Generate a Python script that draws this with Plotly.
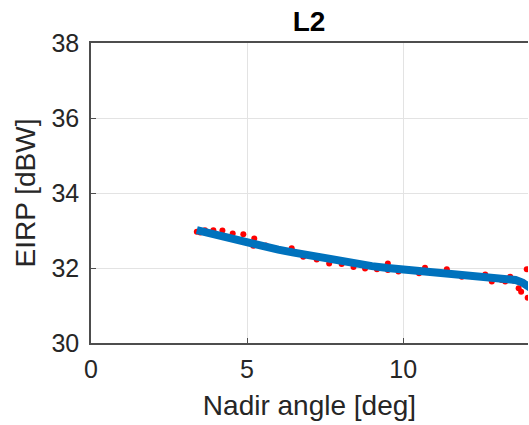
import plotly.graph_objects as go

# Measured EIRP samples (red dots)
meas_angle = [3.39, 3.5, 3.65, 3.92, 4.21, 4.54, 4.88, 5.2, 5.23, 5.6, 6.0, 6.43,
              6.8, 7.23, 7.63, 8.03, 8.41, 8.78, 9.16, 9.51, 9.51, 9.85, 10.15,
              10.51, 10.7, 11.05, 11.4, 11.65, 11.88, 12.2, 12.45, 12.63, 12.84,
              13.0, 13.15, 13.27, 13.43, 13.55, 13.7, 13.78, 13.85, 13.96, 13.99]
meas_eirp = [32.97, 32.95, 33.01, 33.01, 33.0, 32.92, 32.9, 32.59, 32.79, 32.6, 32.48, 32.53,
             32.30, 32.23, 32.12, 32.11, 32.03, 31.99, 31.97, 31.95, 32.12, 31.91, 31.96,
             31.86, 32.01, 31.88, 31.97, 31.82, 31.77, 31.78, 31.76, 31.83, 31.64,
             31.72, 31.68, 31.64, 31.77, 31.66, 31.46, 31.37, 31.62, 31.97, 31.21]

# Fitted curve (blue)
fit_angle = [3.39, 4.0, 4.5, 5.0, 5.5, 6.0, 6.5, 7.0, 7.5, 8.0, 8.5, 9.0, 9.5, 10.0,
             10.5, 11.0, 11.5, 12.0, 12.5, 13.0, 13.3, 13.6, 13.8, 14.0, 14.3]
fit_eirp = [33.01, 32.88, 32.78, 32.68, 32.58, 32.49, 32.41, 32.33, 32.25, 32.18, 32.11, 32.05,
            32.0, 31.96, 31.92, 31.88, 31.84, 31.80, 31.77, 31.74, 31.72, 31.68, 31.62, 31.52, 31.35]

FONT = "Liberation Sans, Arial, sans-serif"
W, H = 529, 425

fig = go.Figure()
fig.add_trace(go.Scatter(x=meas_angle, y=meas_eirp, mode="markers",
                         marker=dict(color="#FF0000", size=6), showlegend=False,
                         hoverinfo="skip"))
fig.add_trace(go.Scatter(x=fit_angle, y=fit_eirp, mode="lines",
                         line=dict(color="#0072BD", width=8), showlegend=False,
                         hoverinfo="skip"))

axis_font = dict(family=FONT, size=25, color="#262626")
fig.update_layout(
    width=W, height=H,
    margin=dict(l=91, r=1, t=43, b=82, autoexpand=False),
    paper_bgcolor="white", plot_bgcolor="white",
    title=dict(text="<b>L2</b>", x=309 / W, xanchor="center",
               y=1 - 21 / H, yanchor="middle", automargin=False,
               font=dict(family=FONT, size=28, color="black")),
    xaxis=dict(range=[0, 14], tickvals=[0, 5, 10], showgrid=True, gridcolor="#E3E3E3",
               gridwidth=1, zeroline=False, showline=True, linecolor="#4D4D4D",
               linewidth=1.5, mirror=True, ticks="inside", ticklen=5, tickcolor="#4D4D4D",
               tickfont=axis_font, automargin=False, ticklabelstandoff=3,
               title=dict(text="Nadir angle [deg]", font=dict(family=FONT, size=28, color="#262626"), standoff=14)),
    yaxis=dict(range=[30, 38], tickvals=[30, 32, 34, 36, 38], showgrid=True,
               gridcolor="#E3E3E3", gridwidth=1, zeroline=False, showline=True,
               linecolor="#4D4D4D", linewidth=1.5, ticks="inside", ticklen=5,
               tickcolor="#4D4D4D", tickfont=axis_font, automargin=False, ticklabelstandoff=5,
               title=dict(text="EIRP [dBW]", font=dict(family=FONT, size=28, color="#262626"), standoff=8)),
)
fig.write_html("out.html", config={"displayModeBar": False},
               post_script="document.body.style.margin='0px';document.body.style.overflow='hidden';")
